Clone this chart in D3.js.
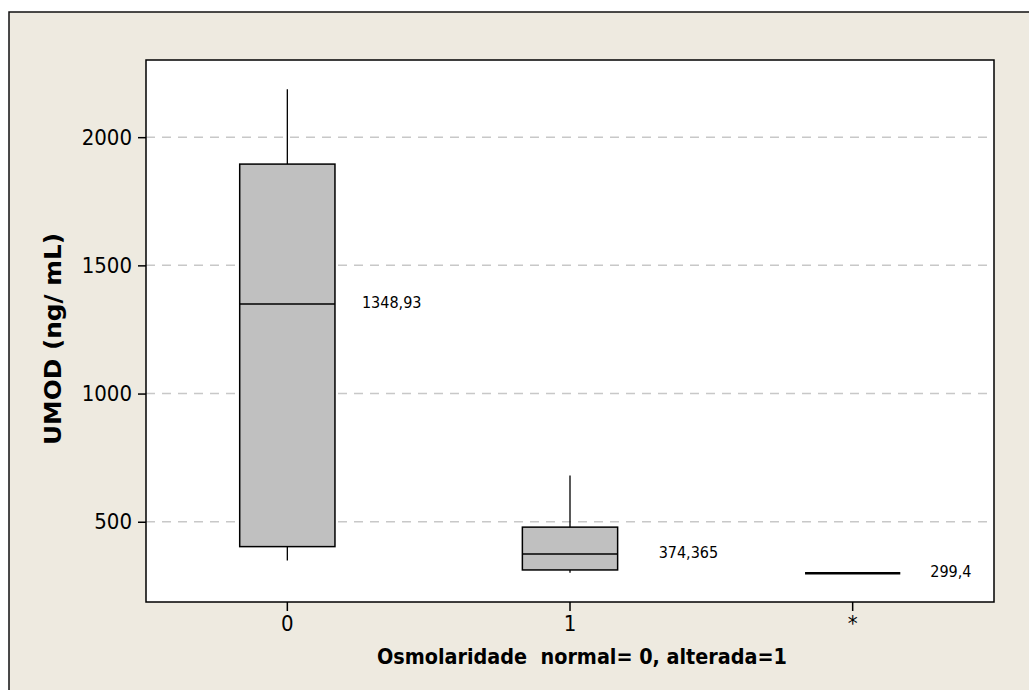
<!DOCTYPE html>
<html>
<head>
<meta charset="utf-8">
<script src="https://cdn.jsdelivr.net/npm/d3@7"></script>
<style>
  body { margin: 0; background: #fff; }
  svg { display: block; }
  svg text { font-family: "DejaVu Sans Condensed", "DejaVu Sans", sans-serif; font-stretch: condensed; }
</style>
</head>
<body>
<div id="chart"></div>
<script>
// values
const categories = ["0", "1", "*"];
const whiskerLow = [349, 301, null];
const q1 = [403, 312, 299.4];
const medians = [1348.93, 374.365, 299.4];
const q3 = [1895, 479, 299.4];
const whiskerHigh = [2187, 680, null];
const medianLabels = ["1348,93", "374,365", "299,4"];
const yTicks = [500, 1000, 1500, 2000];

const width = 1029, height = 690;
const plot = { left: 146, right: 994, top: 60, bottom: 602 };
const labelDx = [27, 41, 30];

const svg = d3.select("#chart").append("svg")
  .attr("width", width)
  .attr("height", height);

// outer frame (cropped on the right and bottom)
svg.append("rect")
  .attr("x", 9).attr("y", 12)
  .attr("width", width).attr("height", height)
  .attr("fill", "#eeeae0")
  .attr("stroke", "#111")
  .attr("stroke-width", 1.5);

svg.append("rect")
  .attr("x", plot.left).attr("y", plot.top)
  .attr("width", plot.right - plot.left)
  .attr("height", plot.bottom - plot.top)
  .attr("fill", "#fff");

const x = d3.scaleBand()
  .domain(categories)
  .range([plot.left, plot.right]);

const y = d3.scaleLinear()
  .domain([187, 2301])
  .range([plot.bottom, plot.top]);

const boxW = x.bandwidth() * 0.337;
const cx = d => x(d) + x.bandwidth() / 2;

// grid lines
svg.append("g")
  .selectAll("line")
  .data(yTicks)
  .join("line")
  .attr("x1", plot.left).attr("x2", plot.right)
  .attr("y1", d => y(d)).attr("y2", d => y(d))
  .attr("stroke", "#c8c8c8")
  .attr("stroke-width", 1.5)
  .attr("stroke-dasharray", "9,7");

const boxes = svg.append("g")
  .selectAll("g")
  .data(categories.map((c, i) => ({ c, i })))
  .join("g");

boxes.filter(d => whiskerHigh[d.i] != null)
  .append("line")
  .attr("x1", d => cx(d.c)).attr("x2", d => cx(d.c))
  .attr("y1", d => y(q3[d.i])).attr("y2", d => y(whiskerHigh[d.i]))
  .attr("stroke", "#000").attr("stroke-width", 1.3);

boxes.filter(d => whiskerLow[d.i] != null)
  .append("line")
  .attr("x1", d => cx(d.c)).attr("x2", d => cx(d.c))
  .attr("y1", d => y(q1[d.i])).attr("y2", d => y(whiskerLow[d.i]))
  .attr("stroke", "#000").attr("stroke-width", 1.3);

boxes.filter(d => q3[d.i] > q1[d.i])
  .append("rect")
  .attr("x", d => cx(d.c) - boxW / 2)
  .attr("y", d => y(q3[d.i]))
  .attr("width", boxW)
  .attr("height", d => y(q1[d.i]) - y(q3[d.i]))
  .attr("fill", "#c0c0c0")
  .attr("stroke", "#000")
  .attr("stroke-width", 1.5);

boxes.append("line")
  .attr("x1", d => cx(d.c) - boxW / 2)
  .attr("x2", d => cx(d.c) + boxW / 2)
  .attr("y1", d => y(medians[d.i])).attr("y2", d => y(medians[d.i]))
  .attr("stroke", "#000")
  .attr("stroke-width", d => q3[d.i] > q1[d.i] ? 1.5 : 2.4);

boxes.append("text")
  .attr("x", d => cx(d.c) + boxW / 2 + labelDx[d.i])
  .attr("y", d => y(medians[d.i]) - 2)
  .attr("dy", "0.35em")
  .attr("font-size", 16)
  .attr("fill", "#000")
  .text(d => medianLabels[d.i]);

// plot border
svg.append("rect")
  .attr("x", plot.left).attr("y", plot.top)
  .attr("width", plot.right - plot.left)
  .attr("height", plot.bottom - plot.top)
  .attr("fill", "none")
  .attr("stroke", "#000")
  .attr("stroke-width", 1.5);

// axes
const yAxis = svg.append("g")
  .attr("transform", `translate(${plot.left},0)`)
  .call(d3.axisLeft(y).tickValues(yTicks).tickFormat(d3.format("d")).tickSize(8).tickPadding(6));
yAxis.select(".domain").remove();
yAxis.attr("font-family", null);
yAxis.selectAll("text").attr("font-size", 22).attr("fill", "#000");
yAxis.selectAll("line").attr("stroke-width", 1.5);

const xAxis = svg.append("g")
  .attr("transform", `translate(0,${plot.bottom})`)
  .call(d3.axisBottom(x).tickSize(9).tickPadding(4));
xAxis.select(".domain").remove();
xAxis.attr("font-family", null);
xAxis.selectAll("text").attr("font-size", 22).attr("fill", "#000");
xAxis.selectAll("line").attr("stroke-width", 1.5);

// titles
svg.append("text")
  .attr("x", 582)
  .attr("y", 664)
  .attr("text-anchor", "middle")
  .attr("font-size", 21)
  .attr("font-weight", "bold")
  .attr("textLength", 410)
  .attr("lengthAdjust", "spacingAndGlyphs")
  .style("white-space", "pre")
  .text("Osmolaridade  normal= 0, alterada=1");

svg.append("text")
  .attr("transform", "translate(61,339) rotate(-90)")
  .attr("text-anchor", "middle")
  .attr("font-size", 23)
  .attr("font-weight", "bold")
  .attr("textLength", 212)
  .attr("lengthAdjust", "spacingAndGlyphs")
  .text("UMOD (ng/ mL)");
</script>
</body>
</html>
